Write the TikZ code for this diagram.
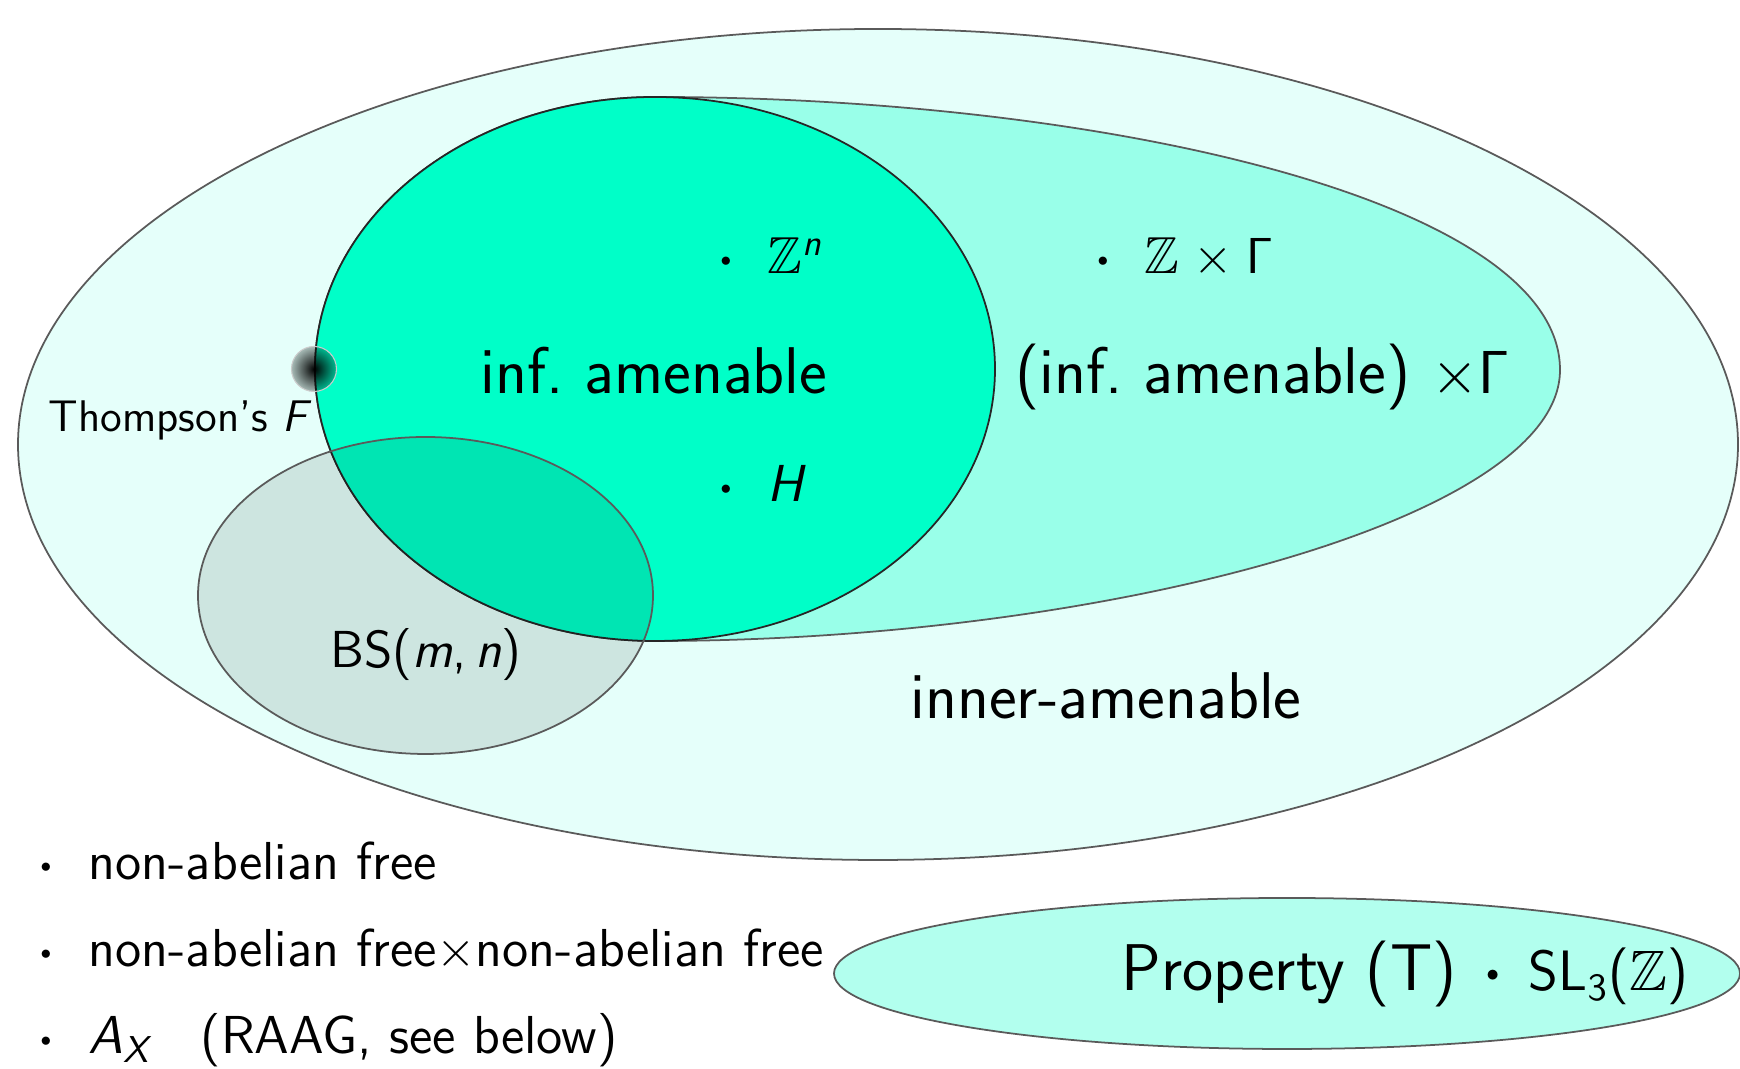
\documentclass[tikz,border=0pt]{standalone}
\usepackage{amsmath,amssymb,graphicx}
\usetikzlibrary{fadings}
\definecolor{amen}{RGB}{0,255,200}
\definecolor{rim}{HTML}{5A5A5A}
\pgfdeclareradialshading{glowshade}{\pgfpointorigin}{color(0bp)=(white); color(5bp)=(white!70!black); color(12bp)=(white!30!black); color(25bp)=(white!8!black); color(50bp)=(white!8!black)}
\pgfdeclarefading{glowfade}{\pgfuseshading{glowshade}}
\newcommand\grpdot{$\vcenter{\hbox{\scalebox{0.42}{$\bullet$}}}$}

\begin{document}
\begin{tikzpicture}[
  region/.style={draw=rim, line width=0.5pt},
  bigtext/.style={font=\sffamily\fontsize{18.8}{22}\selectfont, inner sep=0pt},
  midtext/.style={font=\sffamily\fontsize{14.8}{17}\selectfont, inner sep=0pt},
  smalltext/.style={font=\sffamily\fontsize{12.6}{15}\selectfont, inner sep=0pt},
  listtext/.style={font=\sffamily\fontsize{15.2}{18}\selectfont, inner sep=0pt, anchor=base west},
]
  \useasboundingbox (0,0) rectangle (17.40,10.69);

  % regions
  \coordinate (iacenter) at (6.55,7.00);
  \coordinate (thdot) at (3.14,7.00);
  \filldraw[region, fill=amen!10] (8.78,6.245) ellipse [x radius=8.60, y radius=4.155];
  \filldraw[region, fill=amen!40] (6.55,9.72) .. controls (11.00,9.72) and (15.60,8.69) .. (15.60,6.99)
    .. controls (15.60,5.49) and (11.00,4.28) .. (6.55,4.28)
    arc[start angle=270, end angle=90, x radius=3.40, y radius=2.72] -- cycle;
  \filldraw[region, draw=black!85, fill=amen] (iacenter) ellipse [x radius=3.40, y radius=2.72];
  \filldraw[region, fill=black, fill opacity=0.1] (4.255,4.735) ellipse [x radius=2.275, y radius=1.585];
  \filldraw[region, fill=amen!30] (12.87,0.955) ellipse [x radius=4.53, y radius=0.755];

  % Thompson's group marker
  \begin{scope}
    \clip (thdot) circle (0.225);
    \fill[black, path fading=glowfade] (thdot) circle (0.45);
  \end{scope}
  \draw[black!20, line width=0.3pt] (thdot) circle (0.225);

  % labels
  \node[bigtext, anchor=base] (infam) at (6.54,6.75) {inf.\ amenable};
  \node[midtext, anchor=base west] (zn) at (7.20,7.95) {\grpdot\hspace{0.7em}$\mathbb{Z}^{\text{\itshape n}}$};
  \node[midtext, anchor=base west] (hgrp) at (7.20,5.67) {\grpdot\hspace{0.7em}\textit{H}};
  \node[midtext, anchor=base west] (zgam) at (10.97,7.95) {\grpdot\hspace{0.7em}$\mathbb{Z}\mskip1mu\times\mskip1mu\mathsf{\Gamma}$};
  \node[bigtext, anchor=base west] (prod) at (10.15,6.75) {(inf.\ amenable) $\times\mathsf{\Gamma}$};
  \node[smalltext, anchor=base west] (thf) at (0.48,6.37) {Thompson's \textit{F}};
  \node[midtext, anchor=base] (bs) at (4.26,4.01) {BS(\textit{m},\,\textit{n})};
  \node[bigtext, anchor=base] (inner) at (11.06,3.50) {inner-amenable};

  \node[listtext] (free) at (0.40,1.89) {\grpdot\hspace{0.7em}non-abelian free};
  \node[listtext] (freefree) at (0.40,1.02) {\grpdot\hspace{0.7em}non-abelian free$\times$non-abelian free};
  \node[listtext] (raag) at (0.40,0.15) {\grpdot\hspace{0.7em}\textit{A}$_{\text{\itshape X}}$\hspace{0.95em}(RAAG, see below)};
  \node[bigtext, anchor=base west] (propT) at (11.21,0.78) {Property (T)\hspace{0.45em}\grpdot\hspace{0.45em}{\fontsize{16.2}{19}\selectfont SL$_{\mathsf{3}}$($\mathbb{Z}$)}};
\end{tikzpicture}
\end{document}
